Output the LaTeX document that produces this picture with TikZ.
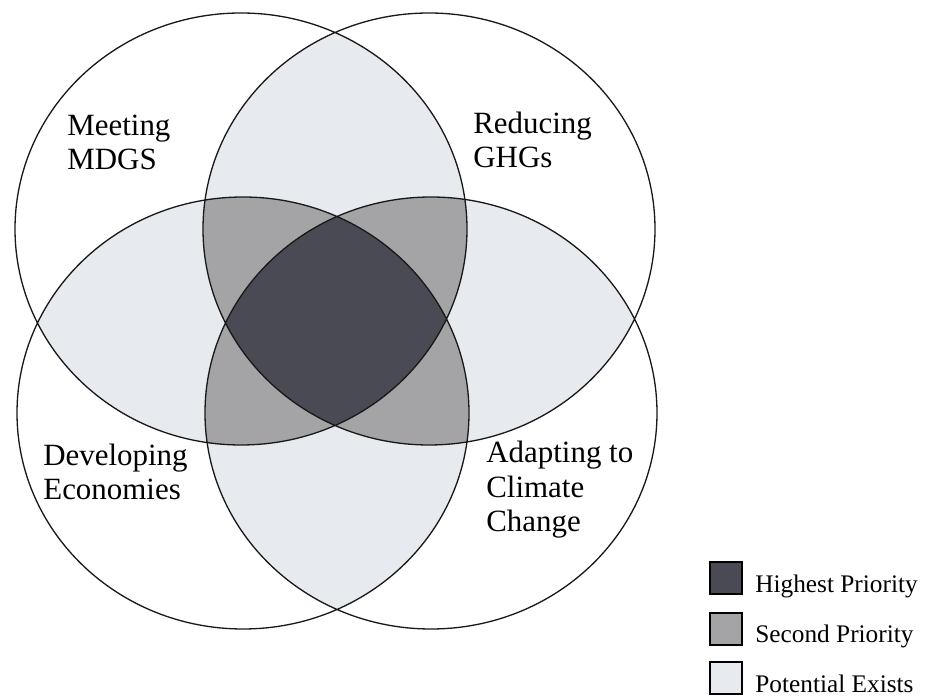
\documentclass[tikz,border=0pt]{standalone}
\usepackage{fontspec}
\setmainfont{Liberation Serif}
\usepackage{tikz}
\usetikzlibrary{positioning}

\definecolor{lightfill}{RGB}{231,234,238}
\definecolor{midfill}{RGB}{164,164,166}
\definecolor{darkfill}{RGB}{74,74,84}

\def\mdgscircle{(mdgs) ellipse [x radius=4.52, y radius=4.32]}
\def\ghgcircle{(ghg) ellipse [x radius=4.52, y radius=4.32]}
\def\econcircle{(econ) ellipse [x radius=4.52, y radius=4.32]}
\def\adaptcircle{(adapt) ellipse [x radius=4.52, y radius=4.32]}

\tikzset{
  venntext/.style={align=left, anchor=base west, inner sep=0pt, font=\fontsize{17.6}{19.8}\selectfont},
  keybox/.style={draw, line width=1.1pt, minimum width=0.64cm, minimum height=0.64cm, inner sep=0pt, anchor=south west},
  keytext/.style={anchor=base west, inner sep=0pt, font=\fontsize{14.4}{17}\selectfont}
}

\begin{document}
\begin{tikzpicture}
\useasboundingbox (0,0) rectangle (18.5,14);
\coordinate (mdgs) at (4.82,9.42);
\coordinate (ghg) at (8.58,9.42);
\coordinate (econ) at (4.86,5.74);
\coordinate (adapt) at (8.62,5.74);

% two circles overlap
\begin{scope}
\clip \mdgscircle;
\fill[lightfill] \ghgcircle \econcircle \adaptcircle;
\end{scope}
\begin{scope}
\clip \ghgcircle;
\fill[lightfill] \econcircle \adaptcircle;
\end{scope}
\begin{scope}
\clip \econcircle;
\fill[lightfill] \adaptcircle;
\end{scope}

% three circles overlap
\begin{scope}
\clip \mdgscircle;
\clip \ghgcircle;
\fill[midfill] \econcircle \adaptcircle;
\end{scope}
\begin{scope}
\clip \econcircle;
\clip \adaptcircle;
\fill[midfill] \mdgscircle \ghgcircle;
\end{scope}

% all four
\begin{scope}
\clip \mdgscircle;
\clip \ghgcircle;
\clip \econcircle;
\fill[darkfill] \adaptcircle;
\end{scope}

\draw[line width=0.75pt, color=black!90] \mdgscircle \ghgcircle \econcircle \adaptcircle;

\node[venntext] (meet) at (1.34,10.60) {Meeting\\MDGS};
\node[venntext] (reduce) at (9.46,10.64) {Reducing\\GHGs};
\node[venntext] (develop) at (0.86,4.00) {Developing\\Economies};
\node[venntext] (adapting) at (9.72,3.36) {Adapting to\\Climate\\Change};

\node[keybox, fill=darkfill] (high) at (14.18,2.10) {};
\node[keytext] (hightext) at (15.10,2.14) {Highest Priority};
\node[keybox, fill=midfill] (second) at (14.18,1.08) {};
\node[keytext] (secondtext) at (15.10,1.14) {Second Priority};
\node[keybox, fill=lightfill] (potential) at (14.18,0.10) {};
\node[keytext] (potentialtext) at (15.10,0.14) {Potential Exists};

\end{tikzpicture}
\end{document}
